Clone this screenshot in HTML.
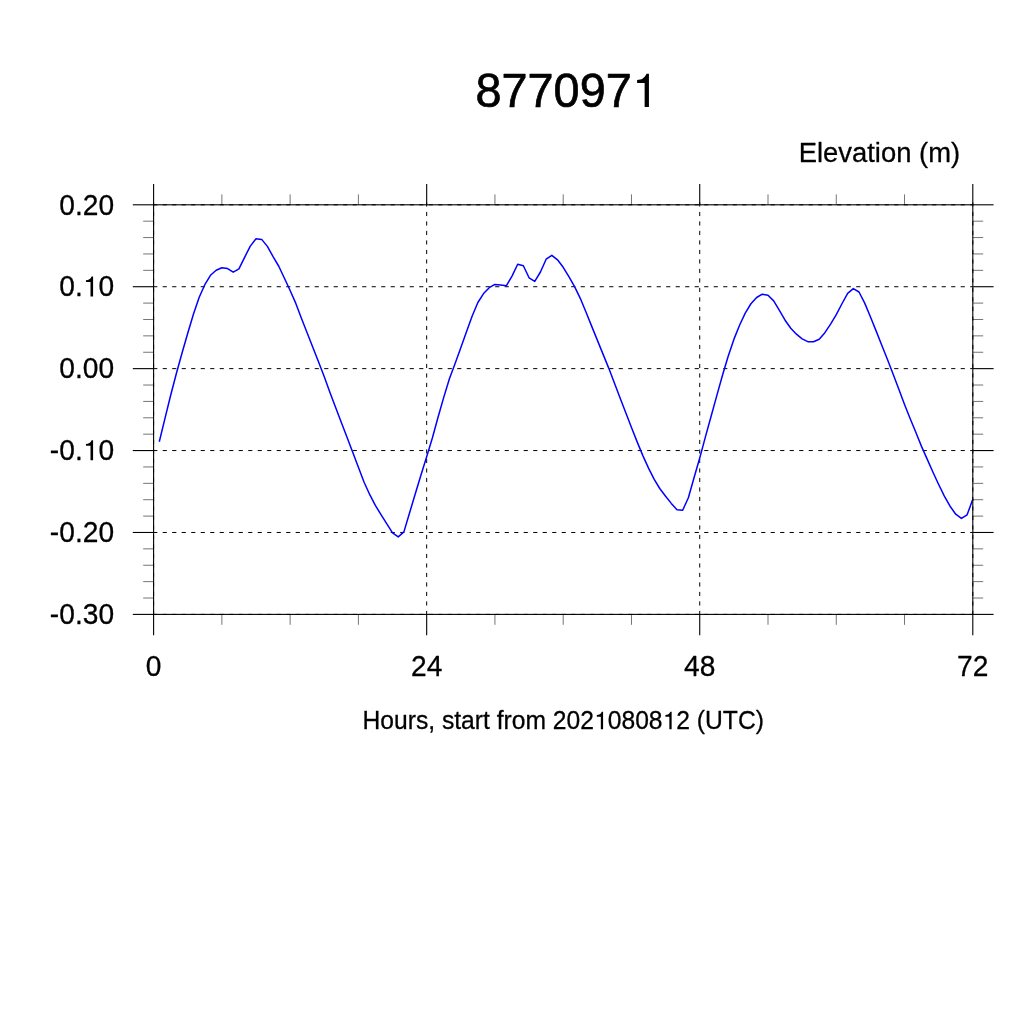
<!DOCTYPE html>
<html><head><meta charset="utf-8"><title>8770971</title>
<style>
html,body{margin:0;padding:0;background:#fff;}
body{width:1024px;height:1024px;overflow:hidden;}
svg{display:block;}
text{font-family:"Liberation Sans",sans-serif;fill:#000;font-kerning:none;white-space:pre;}
</style></head><body>
<svg width="1024" height="1024" viewBox="0 0 1024 1024">
<rect width="1024" height="1024" fill="#fff"/>
<g stroke="#000" stroke-width="1" fill="none" stroke-dasharray="4.15 5.35">
<line x1="153.20" y1="204.80" x2="972.80" y2="204.80"/>
<line x1="153.20" y1="286.72" x2="972.80" y2="286.72"/>
<line x1="153.20" y1="368.64" x2="972.80" y2="368.64"/>
<line x1="153.20" y1="450.56" x2="972.80" y2="450.56"/>
<line x1="153.20" y1="532.48" x2="972.80" y2="532.48"/>
<line x1="153.20" y1="614.40" x2="972.80" y2="614.40"/>
<line x1="153.60" y1="202.40" x2="153.60" y2="614.40"/>
<line x1="426.67" y1="202.40" x2="426.67" y2="614.40"/>
<line x1="699.73" y1="202.40" x2="699.73" y2="614.40"/>
<line x1="972.80" y1="202.40" x2="972.80" y2="614.40"/>
</g>
<polyline fill="none" stroke="#0000ff" stroke-width="1.5" stroke-linejoin="round" stroke-linecap="butt" points="159.29,441.70 164.98,418.40 170.67,395.30 176.36,373.50 182.04,353.00 187.73,333.30 193.42,314.30 199.11,297.50 204.80,284.70 210.49,275.30 216.18,270.30 221.87,267.80 227.56,268.60 233.24,272.20 238.93,268.90 244.62,257.30 250.31,246.10 256.00,238.75 261.69,239.40 267.38,246.40 273.07,256.60 278.76,266.25 284.44,278.20 290.13,290.50 295.82,303.40 301.51,318.40 307.20,332.90 312.89,347.50 318.58,362.10 324.27,376.70 329.96,392.40 335.64,407.60 341.33,422.50 347.02,437.30 352.71,452.30 358.40,467.20 364.09,482.20 369.78,494.70 375.47,505.60 381.16,514.80 386.84,523.90 392.53,532.80 398.22,536.90 403.91,531.90 409.60,512.80 415.29,493.75 420.98,475.00 426.67,456.70 432.36,438.00 438.04,417.20 443.73,397.40 449.42,378.80 455.11,363.50 460.80,347.80 466.49,331.80 472.18,316.00 477.87,302.50 483.56,293.60 489.24,287.70 494.93,284.40 500.62,285.00 506.31,285.80 512.00,276.10 517.69,264.20 523.38,265.80 529.07,277.80 534.76,281.40 540.44,272.00 546.13,259.20 551.82,255.30 557.51,259.80 563.20,267.30 568.89,276.70 574.58,286.60 580.27,298.30 585.96,312.00 591.64,326.10 597.33,340.10 603.02,354.10 608.71,368.10 614.40,383.10 620.09,398.10 625.78,412.80 631.47,427.50 637.16,441.90 642.84,455.60 648.53,468.10 654.22,479.40 659.91,488.75 665.60,496.25 671.29,503.40 676.98,509.70 682.67,510.20 688.36,497.80 694.04,477.80 699.73,458.00 705.42,436.90 711.11,416.20 716.80,395.60 722.49,375.30 728.18,356.30 733.87,339.40 739.56,325.30 745.24,313.10 750.93,303.75 756.62,297.50 762.31,294.20 768.00,295.20 773.69,300.90 779.38,310.30 785.07,320.20 790.76,328.30 796.44,334.20 802.13,338.90 807.82,341.70 813.51,341.70 819.20,339.20 824.89,332.70 830.58,324.10 836.27,314.70 841.96,303.75 847.64,293.40 853.33,288.60 859.02,292.00 864.71,303.10 870.40,316.70 876.09,330.90 881.78,345.30 887.47,359.50 893.16,374.20 898.84,389.30 904.53,404.50 910.22,418.75 915.91,432.50 921.60,446.60 927.29,459.40 932.98,472.30 938.67,484.50 944.36,496.10 950.04,506.20 955.73,514.20 961.42,518.40 967.11,514.80 972.80,499.30"/>
<g stroke="#000" stroke-width="1.1" fill="none">
<rect x="153.60" y="204.80" width="819.20" height="409.60"/>
<line x1="132.80" y1="204.80" x2="153.60" y2="204.80"/>
<line x1="972.80" y1="204.80" x2="993.60" y2="204.80"/>
<line x1="132.80" y1="286.72" x2="153.60" y2="286.72"/>
<line x1="972.80" y1="286.72" x2="993.60" y2="286.72"/>
<line x1="132.80" y1="368.64" x2="153.60" y2="368.64"/>
<line x1="972.80" y1="368.64" x2="993.60" y2="368.64"/>
<line x1="132.80" y1="450.56" x2="153.60" y2="450.56"/>
<line x1="972.80" y1="450.56" x2="993.60" y2="450.56"/>
<line x1="132.80" y1="532.48" x2="153.60" y2="532.48"/>
<line x1="972.80" y1="532.48" x2="993.60" y2="532.48"/>
<line x1="132.80" y1="614.40" x2="153.60" y2="614.40"/>
<line x1="972.80" y1="614.40" x2="993.60" y2="614.40"/>
<line x1="153.60" y1="184.00" x2="153.60" y2="204.80"/>
<line x1="153.60" y1="614.40" x2="153.60" y2="635.20"/>
<line x1="426.67" y1="184.00" x2="426.67" y2="204.80"/>
<line x1="426.67" y1="614.40" x2="426.67" y2="635.20"/>
<line x1="699.73" y1="184.00" x2="699.73" y2="204.80"/>
<line x1="699.73" y1="614.40" x2="699.73" y2="635.20"/>
<line x1="972.80" y1="184.00" x2="972.80" y2="204.80"/>
<line x1="972.80" y1="614.40" x2="972.80" y2="635.20"/>
</g>
<g stroke="#000" stroke-width="0.55" fill="none">
<line x1="143.20" y1="221.18" x2="153.60" y2="221.18"/>
<line x1="972.80" y1="221.18" x2="983.20" y2="221.18"/>
<line x1="143.20" y1="237.57" x2="153.60" y2="237.57"/>
<line x1="972.80" y1="237.57" x2="983.20" y2="237.57"/>
<line x1="143.20" y1="253.95" x2="153.60" y2="253.95"/>
<line x1="972.80" y1="253.95" x2="983.20" y2="253.95"/>
<line x1="143.20" y1="270.34" x2="153.60" y2="270.34"/>
<line x1="972.80" y1="270.34" x2="983.20" y2="270.34"/>
<line x1="143.20" y1="303.10" x2="153.60" y2="303.10"/>
<line x1="972.80" y1="303.10" x2="983.20" y2="303.10"/>
<line x1="143.20" y1="319.49" x2="153.60" y2="319.49"/>
<line x1="972.80" y1="319.49" x2="983.20" y2="319.49"/>
<line x1="143.20" y1="335.87" x2="153.60" y2="335.87"/>
<line x1="972.80" y1="335.87" x2="983.20" y2="335.87"/>
<line x1="143.20" y1="352.26" x2="153.60" y2="352.26"/>
<line x1="972.80" y1="352.26" x2="983.20" y2="352.26"/>
<line x1="143.20" y1="385.02" x2="153.60" y2="385.02"/>
<line x1="972.80" y1="385.02" x2="983.20" y2="385.02"/>
<line x1="143.20" y1="401.41" x2="153.60" y2="401.41"/>
<line x1="972.80" y1="401.41" x2="983.20" y2="401.41"/>
<line x1="143.20" y1="417.79" x2="153.60" y2="417.79"/>
<line x1="972.80" y1="417.79" x2="983.20" y2="417.79"/>
<line x1="143.20" y1="434.18" x2="153.60" y2="434.18"/>
<line x1="972.80" y1="434.18" x2="983.20" y2="434.18"/>
<line x1="143.20" y1="466.94" x2="153.60" y2="466.94"/>
<line x1="972.80" y1="466.94" x2="983.20" y2="466.94"/>
<line x1="143.20" y1="483.33" x2="153.60" y2="483.33"/>
<line x1="972.80" y1="483.33" x2="983.20" y2="483.33"/>
<line x1="143.20" y1="499.71" x2="153.60" y2="499.71"/>
<line x1="972.80" y1="499.71" x2="983.20" y2="499.71"/>
<line x1="143.20" y1="516.10" x2="153.60" y2="516.10"/>
<line x1="972.80" y1="516.10" x2="983.20" y2="516.10"/>
<line x1="143.20" y1="548.86" x2="153.60" y2="548.86"/>
<line x1="972.80" y1="548.86" x2="983.20" y2="548.86"/>
<line x1="143.20" y1="565.25" x2="153.60" y2="565.25"/>
<line x1="972.80" y1="565.25" x2="983.20" y2="565.25"/>
<line x1="143.20" y1="581.63" x2="153.60" y2="581.63"/>
<line x1="972.80" y1="581.63" x2="983.20" y2="581.63"/>
<line x1="143.20" y1="598.02" x2="153.60" y2="598.02"/>
<line x1="972.80" y1="598.02" x2="983.20" y2="598.02"/>
<line x1="221.87" y1="194.40" x2="221.87" y2="204.80"/>
<line x1="221.87" y1="614.40" x2="221.87" y2="624.80"/>
<line x1="290.13" y1="194.40" x2="290.13" y2="204.80"/>
<line x1="290.13" y1="614.40" x2="290.13" y2="624.80"/>
<line x1="358.40" y1="194.40" x2="358.40" y2="204.80"/>
<line x1="358.40" y1="614.40" x2="358.40" y2="624.80"/>
<line x1="494.93" y1="194.40" x2="494.93" y2="204.80"/>
<line x1="494.93" y1="614.40" x2="494.93" y2="624.80"/>
<line x1="563.20" y1="194.40" x2="563.20" y2="204.80"/>
<line x1="563.20" y1="614.40" x2="563.20" y2="624.80"/>
<line x1="631.47" y1="194.40" x2="631.47" y2="204.80"/>
<line x1="631.47" y1="614.40" x2="631.47" y2="624.80"/>
<line x1="768.00" y1="194.40" x2="768.00" y2="204.80"/>
<line x1="768.00" y1="614.40" x2="768.00" y2="624.80"/>
<line x1="836.27" y1="194.40" x2="836.27" y2="204.80"/>
<line x1="836.27" y1="614.40" x2="836.27" y2="624.80"/>
<line x1="904.53" y1="194.40" x2="904.53" y2="204.80"/>
<line x1="904.53" y1="614.40" x2="904.53" y2="624.80"/>
</g>
<g opacity="0.999" stroke="#000" stroke-linejoin="round">
<text transform="translate(475.50 107.00) scale(0.9655 1)" font-size="48.5" stroke-width="0.7">877097</text>
<path d="M648.94 107.00L644.63 107.00L644.63 83.07L637.10 83.07L637.10 80.00C641.50 80.00 644.63 78.13 646.51 73.80L648.94 73.80Z" stroke="none"/>
<text transform="translate(798.75 161.80) scale(0.9786 1)" font-size="28" stroke-width="0.3">Elevation (m)</text>
<text transform="translate(59.24 214.50) scale(0.9720 1)" font-size="29" stroke-width="0.3">0.20</text>
<text transform="translate(59.24 296.42) scale(0.9720 1)" font-size="29" stroke-width="0.3">0.</text>
<path d="M93.09 296.42L90.50 296.42L90.50 282.02L85.96 282.02L85.96 280.17C88.61 280.17 90.50 279.04 91.63 276.43L93.09 276.43Z" stroke="none"/>
<text transform="translate(98.42 296.42) scale(0.9720 1)" font-size="29" stroke-width="0.3">0</text>
<text transform="translate(59.24 378.34) scale(0.9720 1)" font-size="29" stroke-width="0.3">0.00</text>
<text transform="translate(49.85 460.26) scale(0.9720 1)" font-size="29" stroke-width="0.3">-0.</text>
<path d="M93.09 460.26L90.50 460.26L90.50 445.86L85.96 445.86L85.96 444.01C88.61 444.01 90.50 442.88 91.63 440.27L93.09 440.27Z" stroke="none"/>
<text transform="translate(98.42 460.26) scale(0.9720 1)" font-size="29" stroke-width="0.3">0</text>
<text transform="translate(49.85 542.18) scale(0.9720 1)" font-size="29" stroke-width="0.3">-0.20</text>
<text transform="translate(49.85 624.10) scale(0.9720 1)" font-size="29" stroke-width="0.3">-0.30</text>
<text transform="translate(145.76 675.60) scale(0.9720 1)" font-size="29" stroke-width="0.3">0</text>
<text transform="translate(410.99 675.60) scale(0.9720 1)" font-size="29" stroke-width="0.3">24</text>
<text transform="translate(684.06 675.60) scale(0.9720 1)" font-size="29" stroke-width="0.3">48</text>
<text transform="translate(957.12 675.60) scale(0.9720 1)" font-size="29" stroke-width="0.3">72</text>
<text transform="translate(362.50 729.30) scale(0.9630 1)" font-size="25.6" stroke-width="0.3">Hours, start from 202</text>
<path d="M603.09 729.30L600.82 729.30L600.82 716.70L596.85 716.70L596.85 715.09C599.17 715.09 600.82 714.10 601.81 711.82L603.09 711.82Z" stroke="none"/>
<text transform="translate(607.75 729.30) scale(0.9630 1)" font-size="25.6" stroke-width="0.3">0808</text>
<path d="M671.64 729.30L669.37 729.30L669.37 716.70L665.41 716.70L665.41 715.09C667.72 715.09 669.37 714.10 670.36 711.82L671.64 711.82Z" stroke="none"/>
<text transform="translate(676.31 729.30) scale(0.9630 1)" font-size="25.6" stroke-width="0.3">2 (UTC)</text>
</g>
</svg>
</body></html>
